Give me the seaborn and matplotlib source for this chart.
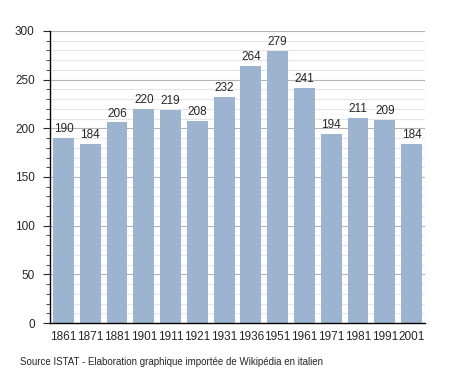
import matplotlib
matplotlib.use("Agg")
import matplotlib.pyplot as plt
import seaborn as sns
import pandas as pd
from matplotlib.ticker import MultipleLocator

years = ["1861", "1871", "1881", "1901", "1911", "1921", "1931", "1936", "1951", "1961", "1971", "1981", "1991", "2001"]
population = [190, 184, 206, 220, 219, 208, 232, 264, 279, 241, 194, 211, 209, 184]

df = pd.DataFrame({"year": years, "pop": population})

sns.set_style("white")
plt.rcParams['font.family'] = ['Liberation Sans', 'DejaVu Sans']

fig = plt.figure(figsize=(4.55, 3.73), dpi=100)
ax = fig.add_axes([0.110, 0.134, 0.824, 0.783])

ax.set_ylim(0, 300)
ax.yaxis.set_major_locator(MultipleLocator(50))
ax.yaxis.set_minor_locator(MultipleLocator(10))
for y in range(10, 300, 10):
    col = "#b4b4b4" if y % 50 == 0 else "#e6e6e6"
    ax.axhline(y, color=col, linewidth=0.8, zorder=0)
ax.axhline(300, color="#b4b4b4", linewidth=0.8, zorder=0)

sns.barplot(data=df, x="year", y="pop", color="#9cb4d0", saturation=1, width=0.78,
            linewidth=0, ax=ax)
for p in ax.patches:
    p.set_zorder(5)

ax.set_ylim(0, 300)
ax.set_xlim(-0.5, len(years) - 0.5)
ax.grid(False)

for s in ["top", "right"]:
    ax.spines[s].set_visible(False)
ax.spines["left"].set_color("black")
ax.spines["bottom"].set_color("black")
ax.spines["left"].set_linewidth(1)
ax.spines["bottom"].set_linewidth(1)
ax.spines["left"].set_zorder(6)
ax.spines["bottom"].set_zorder(6)

ax.tick_params(axis="y", which="major", left=True, length=5, width=0.8, labelsize=8.5, pad=6)
ax.tick_params(axis="y", which="minor", left=True, length=3, width=0.6)
ax.tick_params(axis="x", bottom=False, labelsize=8.5, pad=2)
ax.set_xlabel("")
ax.set_ylabel("")

for i, v in enumerate(population):
    ax.text(i, v + 3, str(v), ha="center", va="bottom", fontsize=8.5, zorder=6)

fig.text(0.044, 0.015, "Source ISTAT - Elaboration graphique importée de Wikipédia en italien", fontsize=7, ha="left", va="bottom")

fig.savefig("out.png", dpi=100, facecolor="white")
